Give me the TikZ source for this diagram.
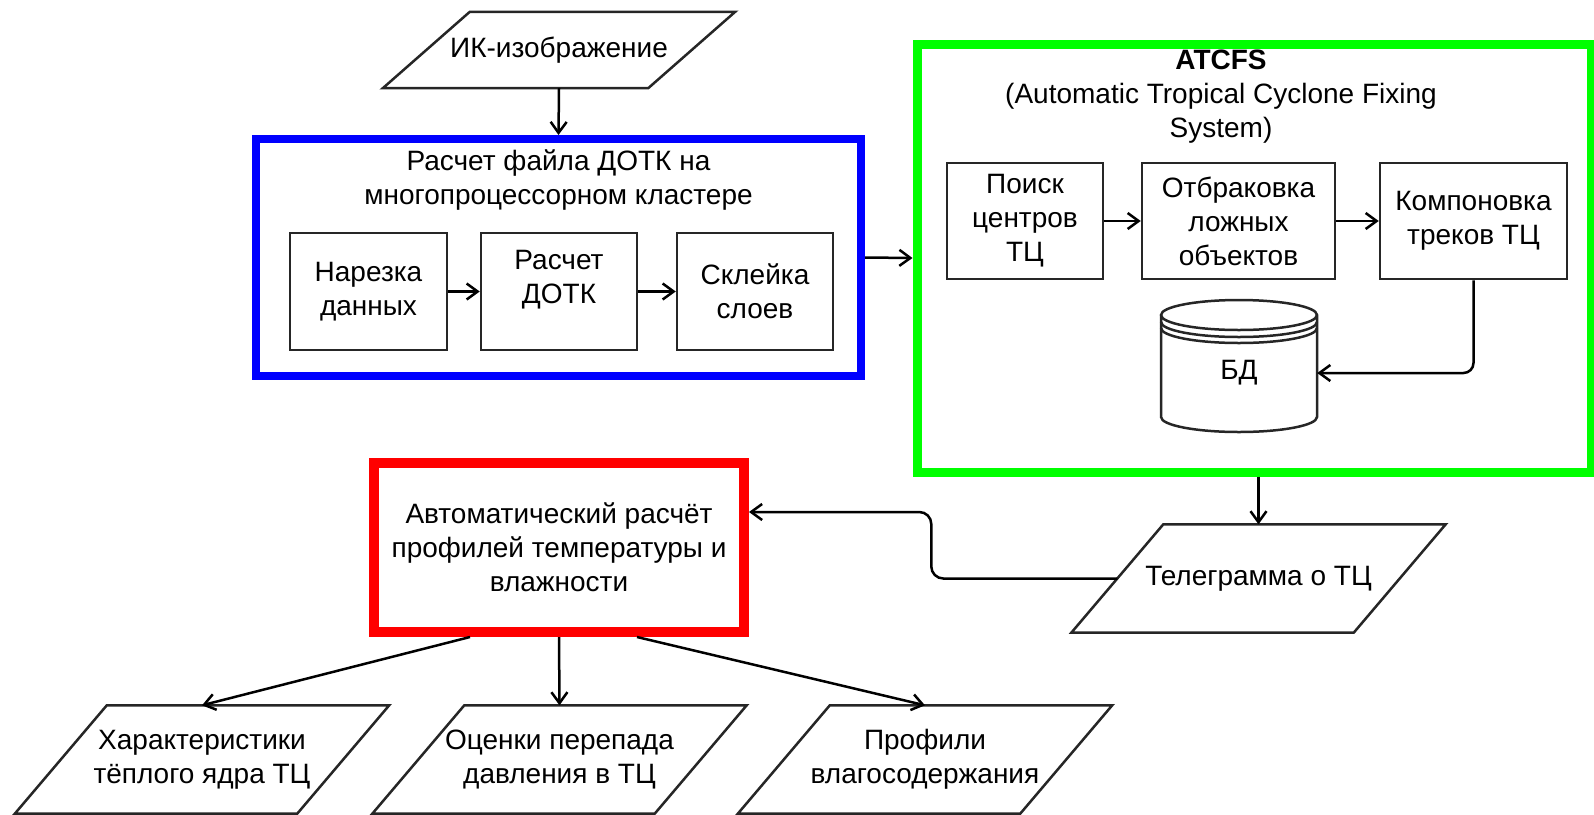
\documentclass[tikz,border=0pt]{standalone}
\usepackage{fontspec}
\setmainfont{Liberation Sans}
\usetikzlibrary{arrows.meta}
% slanted data box drawn round a named node
\newcommand{\parabox}[2]{\draw[pline] ([xshift=#2]#1.north west) -- (#1.north east) -- ([xshift=-#2]#1.south east) -- (#1.south west) -- cycle;}
\begin{document}
\begin{tikzpicture}[x=1pt,y=1pt,
		font=\fontsize{28}{34}\selectfont,
		pline/.style={draw=black!85,line width=2.5pt,line join=miter},
		block/.style={pline,align=center,minimum height=117pt,inner sep=0pt},
		io/.style={align=center,minimum width=374pt,minimum height=108pt,inner sep=0pt},
		grp/.style={draw=#1,line width=9pt,inner sep=0pt},
		arr/.style={line width=2.5pt,-{Straight Barb[length=11pt,width=16pt]}}]
			\useasboundingbox (0,0) rectangle (1594,-814);
			
			\node[io,minimum width=352pt,minimum height=76pt] (ik) at (559,-50) {ИК-изображение};
			\parabox{ik}{87pt}
			
			% cluster
			\node[grp=blue,line width=8pt,minimum width=605pt,minimum height=237pt] (dotk) at (558.5,-257.5) {};
			\node[align=center] (dotktitle) at (558.5,-180) {Расчет файла ДОТК на\\многопроцессорном кластере};
			\node[block,minimum width=157pt] (nar) at (368.5,-291.5) {Нарезка\\данных};
			\node[block,minimum width=156pt,label={[align=center,yshift=11.5pt]center:Расчет\\ДОТК}] (ras) at (559,-291.5) {};
			\node[block,minimum width=156pt] (skl) at (755,-291.5) {Склейка\\слоев};
			
			% ATCFS
			\node[grp=green,minimum width=674pt,minimum height=428pt] (atcfs) at (1254,-258) {};
			\node[align=center] (atcfstitle) at (1221,-96.5) {\textbf{ATCFS}\\(Automatic Tropical Cyclone Fixing\\System)};
			\node[block,minimum width=156pt,minimum height=116pt] (poisk) at (1025,-221) {Поиск\\центров\\ТЦ};
			\node[block,minimum width=193pt,minimum height=116pt] (otbr) at (1238.5,-221) {Отбраковка\\ложных\\объектов};
			\node[block,minimum width=187pt,minimum height=116pt] (komp) at (1473.5,-221) {Компоновка\\треков ТЦ};
			\draw[pline] (1161,-315) -- (1161,-417) arc[start angle=180,end angle=360,x radius=78,y radius=15]
				-- (1317,-315) arc[start angle=0,end angle=360,x radius=78,y radius=15];
			\foreach \dy in {7,13}
				\draw[pline] (1161,{-315-\dy}) arc[start angle=180,end angle=360,x radius=78,y radius=15];
			\node[minimum width=156pt,inner sep=0pt] (db) at (1239,-373) {БД};
			
			% profiles
			\node[grp=red,line width=10pt,minimum width=370pt,minimum height=169pt,align=center] (prof) at (559,-547.5) {Автоматический расчёт\\профилей температуры и\\влажности};
			\node[io] (tel) at (1258.5,-578.5) {Телеграмма о ТЦ};
			\parabox{tel}{92pt}
			\node[io] (warm) at (202,-759.5) {Характеристики\\тёплого ядра ТЦ};
			\parabox{warm}{92pt}
			\node[io] (press) at (559.5,-759.5) {Оценки перепада\\давления в ТЦ};
			\parabox{press}{92pt}
			\node[io] (moist) at (925,-759.5) {Профили\\влагосодержания};
			\parabox{moist}{92pt}
			
			\draw[arr] (ik.south) -- (dotk.north);
			\draw[arr] (nar) -- (ras);
			\draw[arr] (ras) -- (skl);
			\draw[arr] (dotk.east) -- (atcfs.west);
			\draw[arr] (poisk) -- (otbr);
			\draw[arr] (otbr) -- (komp);
			\draw[arr,rounded corners=10pt] (komp.south) |- (db.east);
			\draw[arr] (atcfs.south -| tel.north) -- (tel.north);
			\draw[arr,rounded corners=12pt] ([xshift=46pt]tel.west) -- ++(-186,0) |- ([yshift=35.5pt]prof.east);
			\draw[arr] ([xshift=-89pt]prof.south) -- (warm.north);
			\draw[arr] (prof.south) -- (press.north);
			\draw[arr] ([xshift=78pt]prof.south) -- (moist.north);
\end{tikzpicture}
\end{document}
